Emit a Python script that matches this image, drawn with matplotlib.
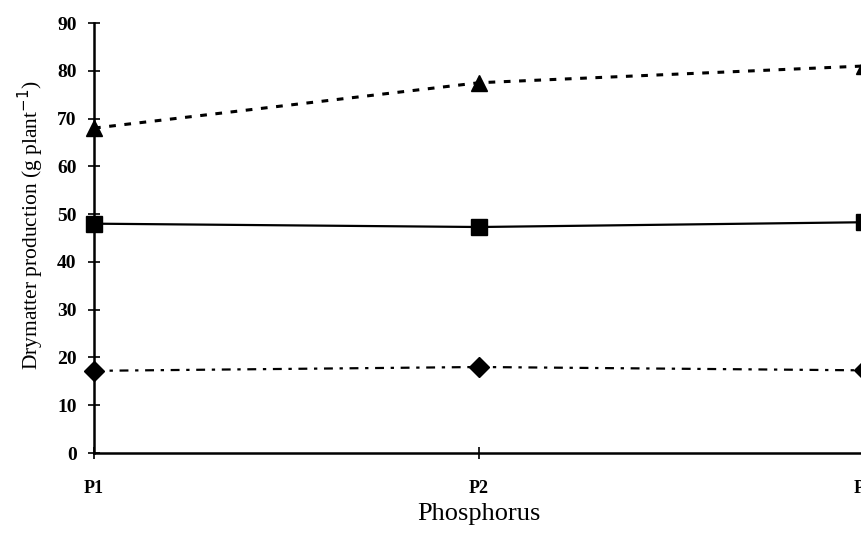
import numpy as np
import matplotlib.pyplot as plt

# Dry matter production (g plant-1) at three phosphorus levels
levels = ['P1', 'P2', 'P3']
triangle = [68.0, 77.5, 81.0]
square = [48.0, 47.3, 48.3]
diamond = [17.2, 18.0, 17.3]

plt.rcParams['font.family'] = ['Liberation Serif', 'DejaVu Serif']

fig = plt.figure(figsize=(8.62, 5.34), dpi=100)
ax = fig.add_axes([94 / 862, 1 - 453 / 534, (864 - 94) / 862, (453 - 23) / 534])

x = np.arange(len(levels))
ax.plot(x, triangle, linestyle=(0, (2.2, 2.8)), color='black', linewidth=2.2,
        marker='^', markersize=12, clip_on=False)
ax.plot(x, square, linestyle='-', color='black', linewidth=1.6,
        marker='s', markersize=11, clip_on=False)
ax.plot(x, diamond, linestyle=(0, (4, 3, 1.5, 3)), color='black', linewidth=1.6,
        marker='D', markersize=10, clip_on=False)

ax.set_xlim(0, 2)
ax.set_ylim(0, 90)
ax.set_xticks(x)
ax.set_xticklabels(levels, fontsize=13, fontweight='bold')
ax.set_yticks(np.arange(0, 91, 10))
ax.set_yticklabels([str(v) for v in range(0, 91, 10)], fontsize=14, fontweight='bold')
ax.tick_params(axis='both', direction='inout', length=9, width=1.2, color='black')
ax.tick_params(axis='y', pad=8)
ax.tick_params(axis='x', pad=15)

ax.spines['top'].set_visible(False)
ax.spines['right'].set_visible(False)
ax.spines['left'].set_linewidth(1.8)
ax.spines['bottom'].set_linewidth(1.8)

ax.set_xlabel('Phosphorus', fontsize=19, labelpad=4)
ax.set_ylabel('Drymatter production (g plant$^{-1}$)', fontsize=15.5)
ax.yaxis.set_label_coords(-0.062, 0.53)

fig.savefig('out.png', dpi=100)
